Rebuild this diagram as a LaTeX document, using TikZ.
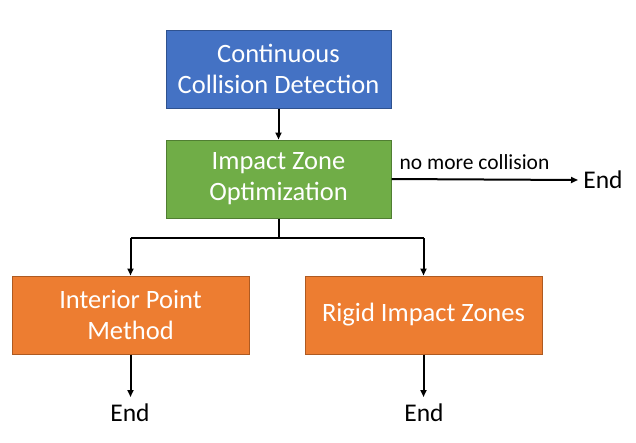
\documentclass[tikz,border=0pt]{standalone}
\usepackage{fontspec}
\setmainfont{Carlito}
\usetikzlibrary{arrows.meta}
\definecolor{cblue}{HTML}{4472C4}
\definecolor{cblueb}{HTML}{2F528F}
\definecolor{cgreen}{HTML}{70AD47}
\definecolor{cgreenb}{HTML}{507E32}
\definecolor{corange}{HTML}{ED7D31}
\definecolor{coranget}{HTML}{AE5A21}
\tikzset{
  box/.style={draw, line width=1pt, minimum width=225pt, minimum height=78pt,
    inner sep=0pt, text=white, align=center, font=\fontsize{26.5}{31}\selectfont},
  bluebox/.style={box, fill=cblue, draw=cblueb},
  greenbox/.style={box, fill=cgreen, draw=cgreenb},
  orangebox/.style={box, fill=corange, draw=coranget, minimum width=237pt},
  endtxt/.style={inner sep=0pt, font=\fontsize{25.5}{30}\selectfont},
  conn/.style={line width=2pt, -{Triangle[length=7pt,width=6pt]}},
  plain/.style={line width=2pt}
}
\begin{document}
\begin{tikzpicture}[x=1pt,y=-1pt]
\useasboundingbox (0,0) rectangle (636,442);
\node[bluebox] (ccd) at (278.5,69) {Continuous\\Collision Detection};
\node[greenbox] (izo) at (278.5,179) {Impact Zone\\Optimization};
\node[orangebox] (ipm) at (130.5,315) {Interior Point\\Method};
\node[orangebox] (riz) at (423.5,315) {\raisebox{-2pt}{Rigid Impact Zones}};
\node[endtxt] (e0) at (603,180) {End};
\node[endtxt] (e1) at (130,413) {End};
\node[endtxt] (e2) at (424,413) {End};
\coordinate (split) at (278.5,238);
\coordinate (sl) at (130.5,238);
\coordinate (sr) at (423.5,238);
\coordinate (t0) at (578,180);
\coordinate (t1) at (130.5,397);
\coordinate (t2) at (423.5,397);
\draw[conn] (ccd) -- (izo);
\draw[conn] (izo.east) -- (t0) node[pos=0.445, above=5pt, font=\fontsize{21.5}{24}\selectfont, text=black] (lbl) {no more collision};
\draw[plain] (izo.south) -- (split);
\draw[plain] (sl) -- (sr);
\draw[conn] (sl) -- (ipm.north);
\draw[conn] (sr) -- (riz.north);
\draw[conn] (ipm.south) -- (t1);
\draw[conn] (riz.south) -- (t2);
\end{tikzpicture}
\end{document}
